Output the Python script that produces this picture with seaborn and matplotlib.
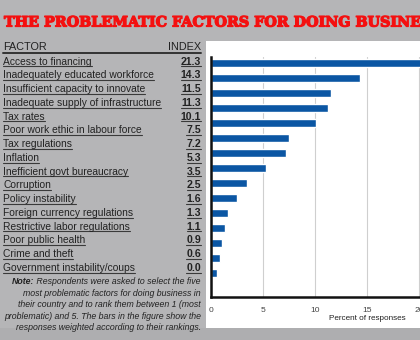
import matplotlib
matplotlib.use("Agg")
import matplotlib.pyplot as plt
import matplotlib.patheffects as pe
import seaborn as sns
import pandas as pd
from matplotlib.patches import Rectangle
from matplotlib.lines import Line2D

factors = [
    "Access to financing",
    "Inadequately educated workforce",
    "Insufficient capacity to innovate",
    "Inadequate supply of infrastructure",
    "Tax rates",
    "Poor work ethic in labour force",
    "Tax regulations",
    "Inflation",
    "Inefficient govt bureaucracy",
    "Corruption",
    "Policy instability",
    "Foreign currency regulations",
    "Restrictive labor regulations",
    "Poor public health",
    "Crime and theft",
    "Government instability/coups",
]
index_values = [21.3, 14.3, 11.5, 11.3, 10.1, 7.5, 7.2, 5.3, 3.5, 2.5, 1.6, 1.3, 1.1, 0.9, 0.6, 0.0]
x_ticks = [0, 5, 10, 15, 20]

title = "THE PROBLEMATIC FACTORS FOR DOING BUSINESS"
note_lines = [
    "most problematic factors for doing business in",
    "their country and to rank them between 1 (most",
    "problematic) and 5. The bars in the figure show the",
    "responses weighted according to their rankings.",
]

W, H = 420, 340
BG = "#b5b5b7"
BAR = "#0b56a3"
TXT = "#222222"
SANS = ["Liberation Sans", "DejaVu Sans"]

sns.set_theme(style="white")
plt.rcParams["font.family"] = SANS

fig = plt.figure(figsize=(W / 100, H / 100), dpi=100, facecolor=BG)


def fx(px):
    return px / W


def fy(py):
    return 1 - py / H


# white chart panel
fig.add_artist(Rectangle((fx(206), fy(328)), fx(W - 206) + 0.01, (328 - 41) / H,
                         transform=fig.transFigure, facecolor="white",
                         edgecolor="none", zorder=0))
# slightly darker strip along the bottom
fig.add_artist(Rectangle((0, 0), 1, (H - 328) / H, transform=fig.transFigure,
                         facecolor="#aeaeb0", edgecolor="none", zorder=0))

df = pd.DataFrame({"factor": factors, "index": index_values})

ax = fig.add_axes([fx(211), fy(297), fx(W - 211), (297 - 57) / H])
ax.set_facecolor("none")
sns.barplot(data=df, x="index", y="factor", orient="h", color=BAR,
            saturation=1, width=0.55, ax=ax, zorder=3)
ax.set_xlim(0, 20.1)
ax.set_ylim(15.6, -0.4)
ax.set_xticks(x_ticks)
ax.set_xticklabels([str(t) for t in x_ticks], fontsize=6.1, color="#444444")
ax.set_yticks([])
ax.set_ylabel("")
ax.set_xlabel("Percent of responses", fontsize=5.9, color="#222222")
ax.xaxis.set_label_coords((367 - 211) / (W - 211), -(319 - 297) / (297 - 57))
ax.xaxis.label.set_va("center")
ax.tick_params(axis="x", length=0, pad=7)
ax.grid(axis="x", color="#cfcfcf", linewidth=0.8, zorder=0)
for side in ("top", "right"):
    ax.spines[side].set_visible(False)
for side in ("left", "bottom"):
    ax.spines[side].set_color("#111111")
    ax.spines[side].set_linewidth(1.8)
    ax.spines[side].set_zorder(5)

# title
fig.text(fx(4), fy(22.5), title, color="#f41010", fontsize=10.3,
         fontweight="bold", family="DejaVu Serif", va="center", ha="left",
         path_effects=[pe.withStroke(linewidth=0.9, foreground="#f41010")])

# table header
fig.text(fx(3), fy(46.5), "FACTOR", fontsize=7.8, color=TXT, va="center", ha="left")
fig.text(fx(201), fy(46.5), "INDEX", fontsize=7.8, color=TXT, va="center", ha="right")
fig.add_artist(Line2D([fx(3), fx(201)], [fy(52.5), fy(52.5)], color="#333333",
                      linewidth=1.4, transform=fig.transFigure))

row_texts = []
for i, (name, val) in enumerate(zip(factors, index_values)):
    y = 61.7 + 13.75 * i
    t1 = fig.text(fx(3), fy(y), name, fontsize=7.4, color=TXT, va="center", ha="left")
    t2 = fig.text(fx(201), fy(y), f"{val:.1f}", fontsize=7.6, color=TXT,
                  va="center", ha="right", fontweight="bold")
    row_texts.append((t1, y))
    row_texts.append((t2, y))

# note
NOTE_FS = 6.3
note_first = fig.text(fx(201), fy(282), " Respondents were asked to select the five",
                      fontsize=NOTE_FS, style="italic", color=TXT, va="center", ha="right")
fig.canvas.draw()
renderer = fig.canvas.get_renderer()
bb = note_first.get_window_extent(renderer)
fig.text(bb.x0 / W, fy(282), "Note:", fontsize=NOTE_FS, style="italic", fontweight="bold",
         color=TXT, va="center", ha="right")
for k, line in enumerate(note_lines):
    fig.text(fx(201), fy(293.5 + 11.3 * k), line, fontsize=NOTE_FS, style="italic",
             color=TXT, va="center", ha="right")

# underline each table entry
for t, y in row_texts:
    bb = t.get_window_extent(renderer)
    uy = fy(y + 4.6)
    fig.add_artist(Line2D([bb.x0 / W, bb.x1 / W], [uy, uy], color="#3a3a3a",
                          linewidth=0.8, transform=fig.transFigure))

fig.savefig("out.png", dpi=100, facecolor=BG)
